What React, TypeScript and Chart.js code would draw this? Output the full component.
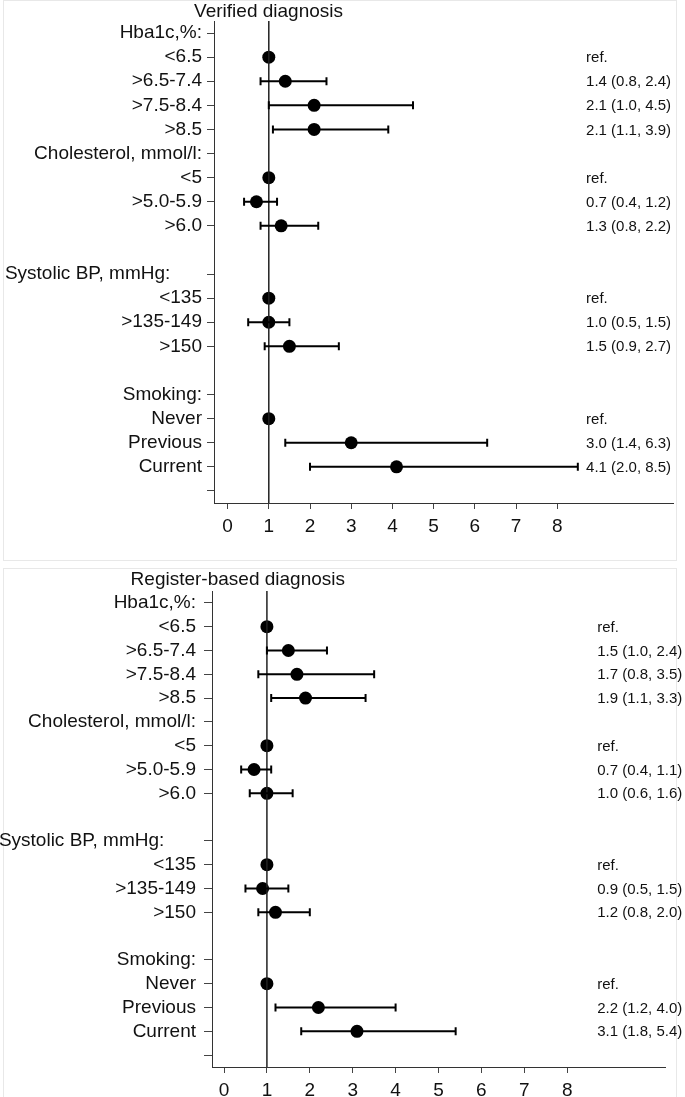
import React, { useEffect, useRef } from "react";
import { Chart, registerables } from "chart.js";

Chart.register(...registerables);

// Row labels of the forest plot (row index = position from top)
const rowLabels = [
  "Hba1c,%:",
  "<6.5",
  ">6.5-7.4",
  ">7.5-8.4",
  ">8.5",
  "Cholesterol, mmol/l:",
  "<5",
  ">5.0-5.9",
  ">6.0",
  "",
  "Systolic BP, mmHg:      ",
  "<135",
  ">135-149",
  ">150",
  "",
  "Smoking:",
  "Never",
  "Previous",
  "Current",
  "",
];
// Rows that carry a tick mark
const tickRows = [0, 1, 2, 3, 4, 5, 6, 7, 8, 10, 11, 12, 13, 15, 16, 17, 18, 19];
// Rows that carry an estimate
const dataRows = [1, 2, 3, 4, 6, 7, 8, 11, 12, 13, 16, 17, 18];

const verifiedOR = [1, 1.4, 2.1, 2.1, 1, 0.7, 1.3, 1, 1.0, 1.5, 1, 3.0, 4.1];
const verifiedLo = [null, 0.8, 1.0, 1.1, null, 0.4, 0.8, null, 0.5, 0.9, null, 1.4, 2.0];
const verifiedHi = [null, 2.4, 4.5, 3.9, null, 1.2, 2.2, null, 1.5, 2.7, null, 6.3, 8.5];

const registerOR = [1, 1.5, 1.7, 1.9, 1, 0.7, 1.0, 1, 0.9, 1.2, 1, 2.2, 3.1];
const registerLo = [null, 1.0, 0.8, 1.1, null, 0.4, 0.6, null, 0.5, 0.8, null, 1.2, 1.8];
const registerHi = [null, 2.4, 3.5, 3.3, null, 1.1, 1.6, null, 1.5, 2.0, null, 4.0, 5.4];

const xTicks = [0, 1, 2, 3, 4, 5, 6, 7, 8];
const refValue = 1;
const annotX = 8.7;

const FONT = "'Liberation Sans', Arial, Helvetica, sans-serif";
const LABEL_SIZE = 19;
const ANNOT_SIZE = 15;

type Geo = {
  canvasTop: number;
  height: number;
  left: number;
  right: number;
  top: number;
  bottom: number;
  xMin: number;
  xMax: number;
  titleRight: number;
  titleY: number;
  labelPad: number;
  tickLen: number;
};

function ForestPanel(props: {
  title: string;
  or: number[];
  lo: (number | null)[];
  hi: (number | null)[];
  geo: Geo;
}) {
  const ref = useRef<HTMLCanvasElement | null>(null);
  const { title, or, lo, hi, geo } = props;
  const W = 685;

  useEffect(() => {
    if (!ref.current) return;
    const xAxisH = 40;
    const forestPlugin = {
      id: "forest",
      afterDatasetsDraw(chart: any) {
        const { ctx, scales } = chart;
        const x = scales.x;
        const y = scales.y;
        ctx.save();
        ctx.strokeStyle = "#000";
        ctx.lineWidth = 2;
        dataRows.forEach((r, i) => {
          const py = y.getPixelForValue(r);
          const l = lo[i];
          const h = hi[i];
          if (l != null && h != null) {
            const x1 = x.getPixelForValue(l);
            const x2 = x.getPixelForValue(h);
            ctx.beginPath();
            ctx.moveTo(x1, py);
            ctx.lineTo(x2, py);
            ctx.moveTo(x1, py - 4);
            ctx.lineTo(x1, py + 4);
            ctx.moveTo(x2, py - 4);
            ctx.lineTo(x2, py + 4);
            ctx.stroke();
          }
          const txt =
            l != null && h != null
              ? `${or[i].toFixed(1)} (${l.toFixed(1)}, ${h.toFixed(1)})`
              : "ref.";
          ctx.fillStyle = "#111";
          ctx.font = `${ANNOT_SIZE}px ${FONT}`;
          ctx.textAlign = "left";
          ctx.textBaseline = "middle";
          ctx.fillText(txt, x.getPixelForValue(annotX), py + 1);
        });
        // title
        ctx.fillStyle = "#111";
        ctx.font = `${LABEL_SIZE}px ${FONT}`;
        ctx.textAlign = "right";
        ctx.textBaseline = "middle";
        ctx.fillText(title, geo.titleRight, geo.titleY);
        ctx.restore();
      },
    };

    const chart = new Chart(ref.current, {
      type: "scatter",
      data: {
        datasets: [
          {
            type: "line",
            data: [
              { x: refValue, y: -0.5 },
              { x: refValue, y: 19.5 },
            ],
            borderColor: "#222",
            borderWidth: 1.5,
            pointRadius: 0,
            fill: false,
          } as any,
          {
            type: "scatter",
            data: dataRows.map((r, i) => ({ x: or[i], y: r })),
            backgroundColor: "#000",
            borderWidth: 0,
            pointRadius: 6.5,
          },
        ],
      },
      options: {
        animation: false,
        responsive: false,
        devicePixelRatio: 1,
        events: [],
        layout: {
          padding: {
            left: 0,
            right: W - geo.right,
            top: geo.top,
            bottom: geo.height - geo.bottom - xAxisH,
          },
        },
        plugins: {
          legend: { display: false },
          tooltip: { enabled: false },
          title: { display: false },
        },
        scales: {
          x: {
            type: "linear",
            min: geo.xMin,
            max: geo.xMax,
            afterFit: (s: any) => {
              s.height = xAxisH;
            },
            afterBuildTicks: (s: any) => {
              s.ticks = xTicks.map((v) => ({ value: v }));
            },
            grid: {
              drawOnChartArea: false,
              drawTicks: true,
              tickLength: 6,
              color: "#444",
            },
            border: { display: true, color: "#333", width: 1 },
            ticks: {
              autoSkip: false,
              maxRotation: 0,
              padding: 6,
              color: "#111",
              font: { family: FONT, size: LABEL_SIZE },
              callback: (v: any) => String(v),
            },
          },
          y: {
            type: "linear",
            reverse: true,
            min: -0.5,
            max: 19.5,
            afterFit: (s: any) => {
              s.width = geo.left;
            },
            afterBuildTicks: (s: any) => {
              s.ticks = tickRows.map((v) => ({ value: v }));
            },
            grid: {
              drawOnChartArea: false,
              drawTicks: true,
              tickLength: geo.tickLen,
              color: "#444",
            },
            border: { display: true, color: "#333", width: 1 },
            ticks: {
              autoSkip: false,
              padding: geo.labelPad,
              color: "#111",
              font: { family: FONT, size: LABEL_SIZE },
              callback: (v: any) => rowLabels[v as number] ?? "",
            },
          },
        },
      },
      plugins: [forestPlugin],
    });
    return () => chart.destroy();
  }, []);

  return (
    <canvas
      ref={ref}
      width={W}
      height={geo.height}
      style={{
        position: "absolute",
        left: 0,
        top: geo.canvasTop,
        width: W,
        height: geo.height,
      }}
    />
  );
}

const topGeo: Geo = {
  canvasTop: 0,
  height: 565,
  left: 214,
  right: 673,
  top: 21,
  bottom: 503,
  xMin: -0.33,
  xMax: 10.81,
  titleRight: 343,
  titleY: 12,
  labelPad: 5,
  tickLen: 7,
};

const bottomGeo: Geo = {
  canvasTop: 565,
  height: 532,
  left: 212,
  right: 665,
  top: 26,
  bottom: 502,
  xMin: -0.28,
  xMax: 10.28,
  titleRight: 345,
  titleY: 15,
  labelPad: 8,
  tickLen: 8,
};

export default function App() {
  return (
    <div
      style={{
        position: "absolute",
        left: 0,
        top: 0,
        width: 685,
        height: 1097,
        background: "#fff",
        overflow: "hidden",
      }}
    >
      <div
        style={{
          position: "absolute",
          left: 3,
          top: 0,
          width: 674,
          height: 561,
          border: "1px solid #e8e8e8",
          boxSizing: "border-box",
        }}
      />
      <div
        style={{
          position: "absolute",
          left: 3,
          top: 568,
          width: 674,
          height: 540,
          border: "1px solid #e8e8e8",
          boxSizing: "border-box",
        }}
      />
      <ForestPanel
        title="Verified diagnosis"
        or={verifiedOR}
        lo={verifiedLo}
        hi={verifiedHi}
        geo={topGeo}
      />
      <ForestPanel
        title="Register-based diagnosis"
        or={registerOR}
        lo={registerLo}
        hi={registerHi}
        geo={bottomGeo}
      />
    </div>
  );
}
